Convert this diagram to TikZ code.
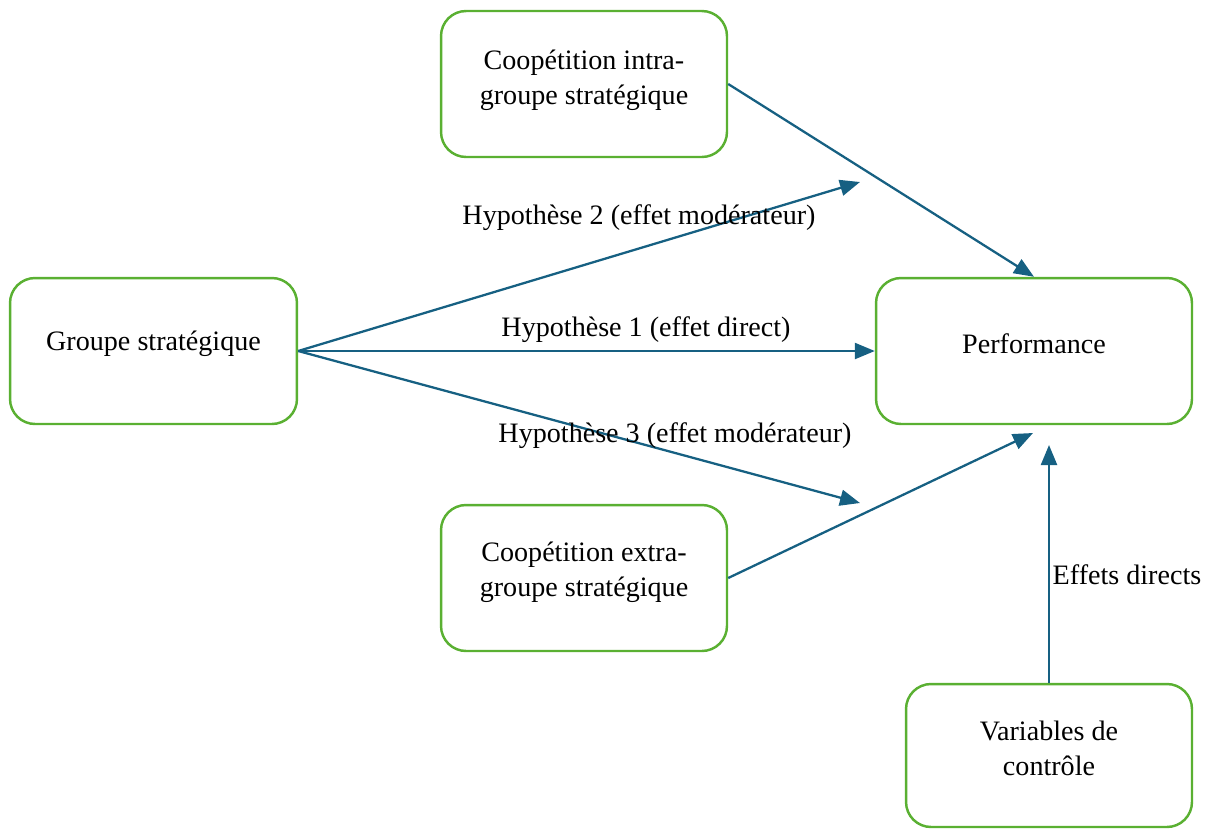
\documentclass[tikz,border=0pt]{standalone}
\usepackage{fontspec}
\setmainfont{Liberation Serif}
\usetikzlibrary{arrows.meta}
\definecolor{boxgreen}{RGB}{90,176,50}
\definecolor{arrowblue}{RGB}{22,96,130}
\tikzset{
  box/.style={draw=boxgreen, line width=1.4pt, rounded corners=0.5cm, inner sep=0pt},
  conn/.style={draw=arrowblue, line width=1.3pt, -{Triangle[length=0.4cm,width=0.32cm]}},
  lbl/.style={font=\fontsize{16}{19.8}\selectfont, inner sep=0pt, align=center}
}
\begin{document}
\begin{tikzpicture}[x=0.02cm,y=-0.02cm]
\useasboundingbox (0,0) rectangle (1213,829);
\node[box, minimum width=5.72cm, minimum height=2.92cm] (intra) at (584,84) {};
\node[box, minimum width=5.74cm, minimum height=2.92cm] (groupe) at (153.5,351) {};
\node[box, minimum width=6.32cm, minimum height=2.92cm] (perf) at (1034,351) {};
\node[box, minimum width=5.72cm, minimum height=2.92cm] (extra) at (584,578) {};
\node[box, minimum width=5.72cm, minimum height=2.86cm] (vars) at (1049,755.5) {};
\node[lbl, yshift=0.07cm] (intra-t) at (intra) {Coopétition intra-\\groupe stratégique};
\node[lbl, yshift=0.15cm] (groupe-t) at (groupe) {Groupe stratégique};
\node[lbl, yshift=0.15cm] (perf-t) at (perf) {Performance};
\node[lbl, yshift=0.12cm] (extra-t) at (extra) {Coopétition extra-\\groupe stratégique};
\node[lbl, yshift=0.14cm] (vars-t) at (vars) {Variables de\\contrôle};
\coordinate (h2end) at (860,182);
\coordinate (h3end) at (860,503);
\coordinate (extend) at (1033,433);
\coordinate (varend) at (1049,445);
\draw[conn] (intra.east) -- (perf.north);
\draw[conn] (groupe.east) -- (h2end);
\draw[conn] (groupe.east) -- (perf.west);
\draw[conn] (groupe.east) -- (h3end);
\draw[conn] (extra.east) -- (extend);
\draw[conn] (vars.north) -- (varend);
\node[lbl] (l2) at (639,218) {Hypothèse 2 (effet modérateur)};
\node[lbl] (l1) at (646,330) {Hypothèse 1 (effet direct)};
\node[lbl] (l3) at (675,436) {Hypothèse 3 (effet modérateur)};
\node[lbl] (l4) at (1127,575) {Effets directs};
\end{tikzpicture}
\end{document}
